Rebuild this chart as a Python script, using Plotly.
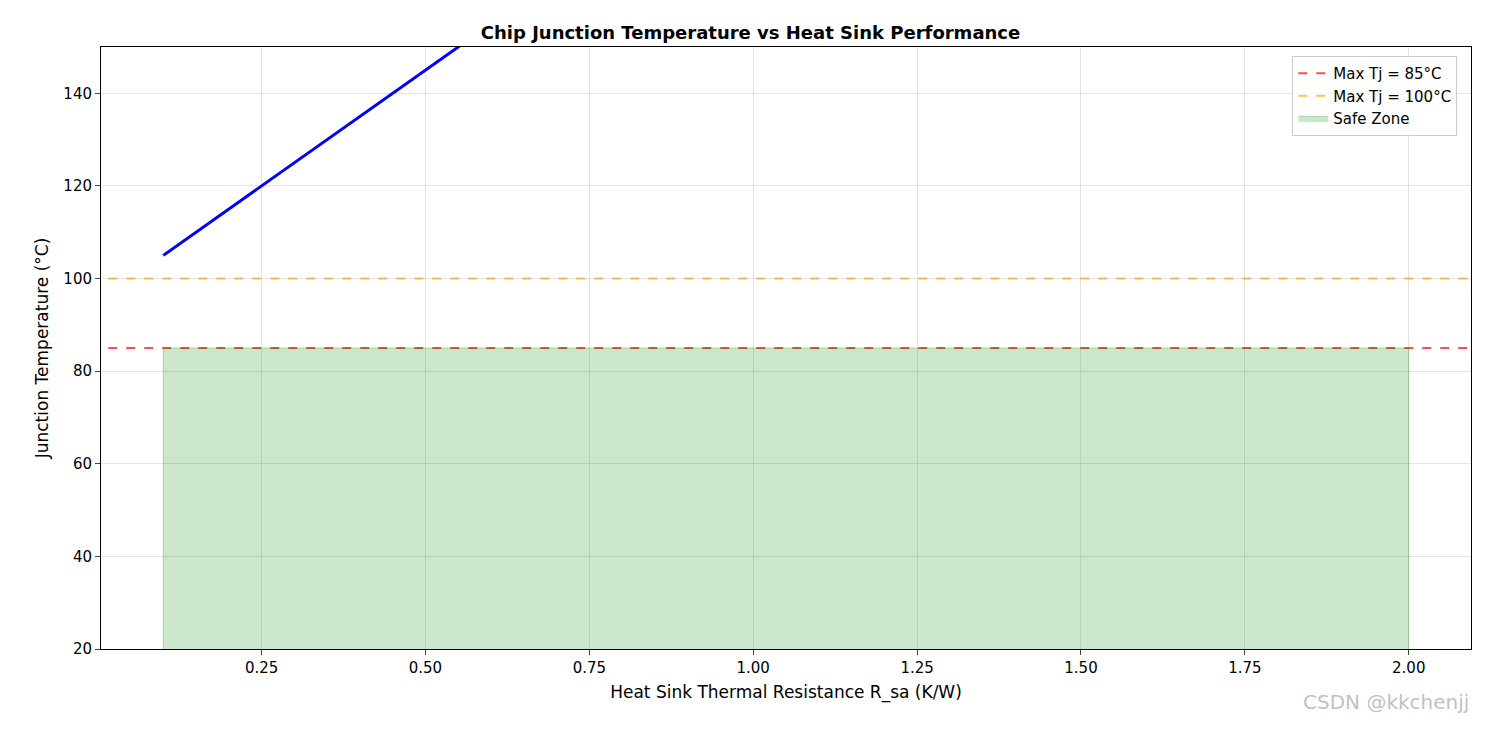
import plotly.graph_objects as go

r_sa = [0.1, 0.5, 1.0, 1.5, 2.0]
tj = [105, 145, 195, 245, 295]
limit_x = [-1, 3]
max85 = [85, 85]
max100 = [100, 100]
safe_x = [0.1, 2.0]
safe_y = [85, 85]

fig = go.Figure()
fig.add_trace(go.Scatter(x=r_sa, y=tj, mode="lines", line=dict(color="blue", width=3), showlegend=False))
fig.add_trace(go.Scatter(x=limit_x, y=max85, mode="lines", name="Max Tj = 85°C",
                         line=dict(color="rgba(255,0,0,0.7)", width=2, dash="dash")))
fig.add_trace(go.Scatter(x=limit_x, y=max100, mode="lines", name="Max Tj = 100°C",
                         line=dict(color="rgba(255,165,0,0.7)", width=2, dash="dash")))
fig.add_trace(go.Scatter(x=[safe_x[0], safe_x[0], safe_x[1], safe_x[1]], y=[0, safe_y[0], safe_y[1], 0],
                         mode="lines", fill="toself", name="Safe Zone",
                         fillcolor="rgba(0,128,0,0.2)", line=dict(color="rgba(0,128,0,0.25)", width=1)))

axis = dict(showline=True, linecolor="black", mirror=True, ticks="outside", ticklen=5,
            gridcolor="rgba(0,0,0,0.1)", zeroline=False, tickfont=dict(size=15, color="black"))
fig.update_layout(
    width=1485, height=730, plot_bgcolor="white", paper_bgcolor="white",
    font=dict(family="DejaVu Sans", color="black"),
    margin=dict(l=93, r=22, t=39, b=89),
    title=dict(text="<b>Chip Junction Temperature vs Heat Sink Performance</b>", x=0.5, xanchor="center",
               y=0.975, font=dict(size=18)),
    xaxis=dict(axis, range=[0.005, 2.095], tickvals=[0.25, 0.5, 0.75, 1.0, 1.25, 1.5, 1.75, 2.0],
               ticktext=["0.25", "0.50", "0.75", "1.00", "1.25", "1.50", "1.75", "2.00"],
               title=dict(text="Heat Sink Thermal Resistance R_sa (K/W)", font=dict(size=17), standoff=10)),
    yaxis=dict(axis, range=[20, 150], dtick=20,
               title=dict(text="Junction Temperature (°C)", font=dict(size=17), standoff=10)),
    legend=dict(x=0.99, y=0.985, xanchor="right", yanchor="top", bgcolor="rgba(255,255,255,0.8)",
                bordercolor="#cccccc", borderwidth=1, font=dict(size=15)),
    annotations=[dict(text="CSDN @kkchenjj", xref="paper", yref="paper", x=1.0, y=-0.065,
                      xanchor="right", yanchor="top", showarrow=False,
                      font=dict(size=20, color="rgba(150,150,150,0.6)"))],
)
fig.write_html("out.html")
